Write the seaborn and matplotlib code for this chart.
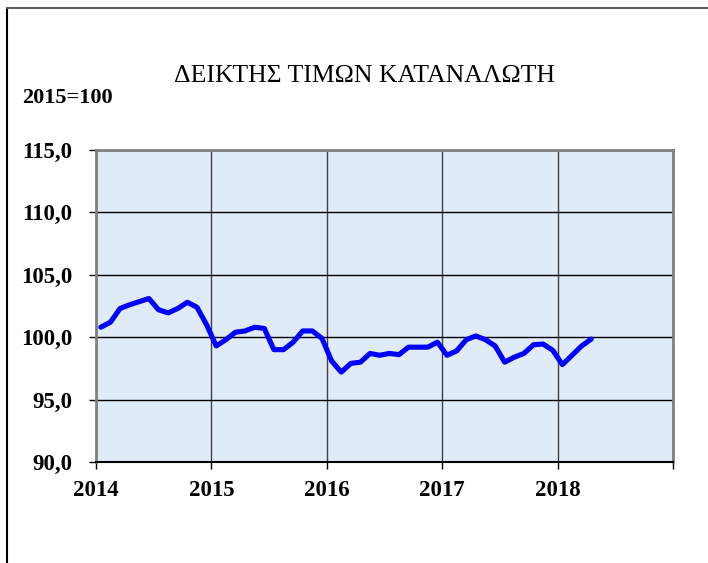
import numpy as np
import pandas as pd
import seaborn as sns
import matplotlib.pyplot as plt
from matplotlib.lines import Line2D
from matplotlib.ticker import FixedLocator, FuncFormatter

# Monthly consumer price index (2015=100), Jan 2014 - Apr 2018
years = [2014] * 12 + [2015] * 12 + [2016] * 12 + [2017] * 12 + [2018] * 4
months = list(range(1, 13)) * 4 + [1, 2, 3, 4]
cpi = [
    100.8, 101.2, 102.3, 102.6, 102.85, 103.1, 102.2, 101.95, 102.3, 102.8, 102.4, 101.0,
    99.3, 99.8, 100.4, 100.5, 100.8, 100.7, 99.0, 99.0, 99.6, 100.5, 100.5, 99.9,
    98.1, 97.2, 97.9, 98.0, 98.7, 98.55, 98.7, 98.6, 99.2, 99.2, 99.2, 99.6,
    98.55, 98.9, 99.8, 100.1, 99.8, 99.3, 98.0, 98.4, 98.7, 99.4, 99.45, 98.95,
    97.8, 98.55, 99.3, 99.85,
]
year_ticks = [2014, 2015, 2016, 2017, 2018, 2019]
year_labels = ["2014", "2015", "2016", "2017", "2018", ""]
y_ticks = [90, 95, 100, 105, 110, 115]

df = pd.DataFrame({"year": years, "month": months, "cpi": cpi})
df["t"] = df["year"] + (df["month"] - 0.5) / 12

sns.set_style("white")
plt.rcParams["font.family"] = ["Liberation Serif", "DejaVu Serif"]
plt.rcParams["text.color"] = "black"
plt.rcParams["xtick.color"] = "black"
plt.rcParams["ytick.color"] = "black"

fig = plt.figure(figsize=(7.08, 5.63), dpi=100)
ax = fig.add_axes([96 / 708, 1 - 462 / 563, (673 - 96) / 708, (462 - 150) / 563])
ax.set_facecolor("#e0ebf8")

sns.lineplot(data=df, x="t", y="cpi", ax=ax, color="#0000ff", linewidth=3.7, zorder=3)

ax.set_xlim(2014, 2019)
ax.set_ylim(90, 115)
ax.xaxis.set_major_locator(FixedLocator(year_ticks))
ax.set_xticklabels(year_labels)
ax.xaxis.set_minor_locator(FixedLocator([y + 0.5 for y in year_ticks[:-1]]))
ax.yaxis.set_major_locator(FixedLocator(y_ticks))
ax.yaxis.set_major_formatter(FuncFormatter(lambda v, p: f"{v:.1f}".replace(".", ",")))

ax.grid(axis="y", color="black", linewidth=1.0, zorder=1)
ax.grid(axis="x", color="#404040", linewidth=1.0, zorder=1)
ax.set_axisbelow(True)

ax.tick_params(axis="both", which="major", direction="out", length=5, width=1,
               color="black", labelcolor="black", labelsize=16.5)
ax.tick_params(axis="x", which="minor", direction="out", length=4, width=1, color="black")
ax.tick_params(axis="y", pad=12)
ax.tick_params(axis="x", bottom=True, pad=8)
ax.tick_params(axis="y", left=True)
for lbl in ax.get_xticklabels() + ax.get_yticklabels():
    lbl.set_fontweight("bold")

for side in ["left", "top", "right"]:
    ax.spines[side].set_color("#808080")
    ax.spines[side].set_linewidth(2)
    ax.spines[side].set_visible(True)
ax.spines["bottom"].set_color("black")
ax.spines["bottom"].set_linewidth(1.5)
ax.spines["bottom"].set_visible(True)

ax.set_xlabel("")
ax.set_ylabel("")

fig.text(365 / 708, 1 - 76 / 563, "ΔΕΙΚΤΗΣ ΤΙΜΩΝ ΚΑΤΑΝΑΛΩΤΗ", ha="center", va="center",
         fontsize=18.5, color="black")
fig.text(22 / 708, 1 - 98 / 563, "2015=100", ha="left", va="center",
         fontsize=16, fontweight="bold", color="black")

# outer frame (left and top edges of the chart box)
fig.add_artist(Line2D([7 / 708, 7 / 708], [0, 1 - 8 / 563], transform=fig.transFigure,
                      color="black", linewidth=1.5))
fig.add_artist(Line2D([7 / 708, 1], [1 - 8 / 563, 1 - 8 / 563], transform=fig.transFigure,
                      color="#606060", linewidth=1.5))

fig.savefig("out.png", dpi=100)
